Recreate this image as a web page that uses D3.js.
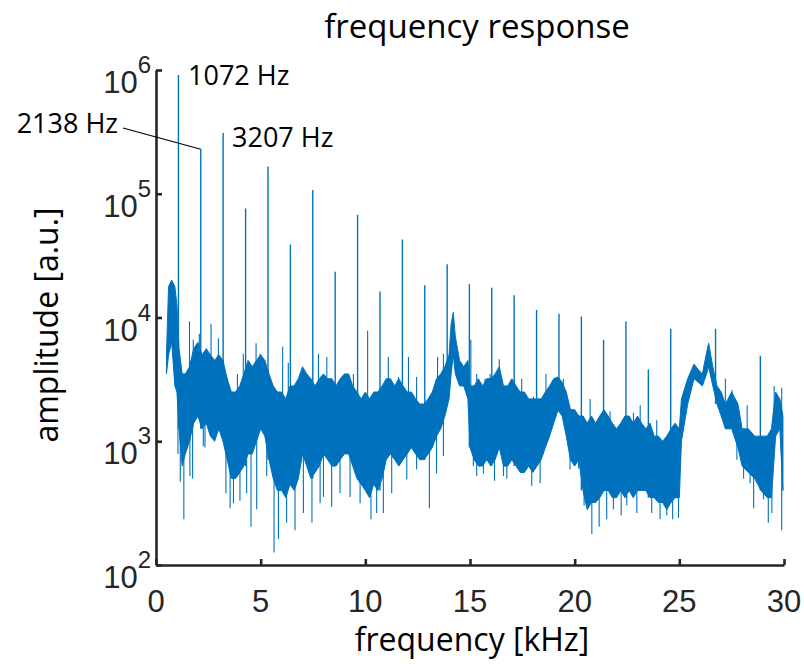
<!DOCTYPE html>
<html>
<head>
<meta charset="utf-8">
<script src="https://cdn.jsdelivr.net/npm/d3@7"></script>
<style>
  body { margin: 0; background: #fff; }
  svg { display: block; }
  .tick line, .domain { stroke: #262626; }
</style>
</head>
<body>
<svg id="chart" width="804" height="664"></svg>
<script>
const bandFreq = [0.5, 0.6, 0.75, 0.9, 1.0, 1.1, 1.25, 1.4, 1.6, 1.8, 2.0, 2.2, 2.4, 2.6, 2.8, 3.0, 3.2, 3.4, 3.6, 3.8,
  4.0, 4.2, 4.4, 4.6, 4.8, 5.0, 5.2, 5.4, 5.6, 5.8, 6.0, 6.2, 6.4, 6.6, 6.8, 7.0, 7.2, 7.4, 7.6, 7.8,
  8.0, 8.2, 8.4, 8.6, 8.8, 9.0, 9.2, 9.4, 9.6, 9.8, 10.0, 10.2, 10.4, 10.6, 10.8, 11.0, 11.2, 11.4, 11.6, 11.8,
  12.0, 12.2, 12.4, 12.6, 12.8, 13.0, 13.2, 13.4, 13.6, 13.8, 14.0, 14.1, 14.2, 14.3, 14.5, 14.7, 14.9,
  15.0, 15.2, 15.4, 15.6, 15.8, 16.0, 16.2, 16.4, 16.6, 16.8, 17.0, 17.2, 17.4, 17.6, 17.8,
  18.0, 18.2, 18.4, 18.6, 18.8, 19.0, 19.2, 19.4, 19.6, 19.8, 20.0, 20.2, 20.4, 20.6, 20.8, 21.0, 21.2, 21.4, 21.6, 21.8,
  22.0, 22.2, 22.4, 22.6, 22.8, 23.0, 23.2, 23.4, 23.6, 23.8, 24.0, 24.2, 24.4, 24.6, 24.8, 25.0,
  25.1, 25.4, 25.7, 25.9, 26.1, 26.3, 26.4, 26.6, 26.8, 27.0, 27.2, 27.5, 27.8, 28.0, 28.3, 28.6, 28.9, 29.2, 29.4, 29.6, 29.8, 29.95];
const bandHigh = [5000, 17800, 20000, 17800, 12600, 5600, 3500, 3500, 4000, 5600, 6300, 5000, 5600, 5000, 4500, 5000, 4500, 3200, 2500, 2500,
  2800, 3500, 4500, 4000, 4500, 5000, 4500, 3500, 2800, 2500, 2500, 2200, 2800, 2800, 3200, 4000, 3500, 3200, 2800, 3200,
  3500, 3200, 3200, 2800, 3200, 3500, 3500, 2800, 2500, 2200, 2500, 2200, 2500, 2500, 2800, 3200, 3200, 2800, 3200, 2800,
  2500, 2500, 2200, 2000, 2000, 2200, 2500, 3200, 3500, 4000, 5000, 8900, 11000, 7000, 4500, 4000, 4500,
  2800, 2800, 3200, 2800, 3200, 3200, 3500, 4000, 2800, 2800, 3200, 2800, 2500, 2500, 2200,
  2200, 2200, 2200, 2500, 2800, 3200, 3300, 3000, 2500, 1800, 1800, 1600, 1600, 1400, 1600, 1400, 1600, 1800, 1600, 1400,
  1260, 1400, 1600, 1600, 1400, 1600, 1400, 1260, 1400, 1100, 1100, 1000, 1100, 1260, 1400, 1260,
  2200, 3200, 4200, 3800, 3500, 5200, 6200, 4000, 2800, 2500, 2000, 2500, 2000, 1260, 1260, 1100, 1100, 1100, 1260, 2500, 2200, 1600];
const bandLow = [3500, 5000, 6300, 2800, 2500, 1260, 630, 790, 1000, 1400, 1600, 1260, 1400, 1100, 1000, 1260, 1000, 710, 500, 500,
  560, 630, 790, 790, 1000, 1260, 1100, 710, 500, 400, 400, 350, 450, 400, 500, 790, 630, 500, 560, 630,
  790, 710, 630, 630, 710, 790, 790, 630, 500, 450, 400, 350, 450, 400, 500, 710, 790, 710, 630, 710,
  790, 890, 790, 710, 710, 790, 890, 1100, 1260, 1600, 2200, 3500, 5000, 3500, 2800, 2800, 2200,
  890, 710, 630, 630, 710, 630, 710, 890, 630, 630, 710, 630, 560, 560, 630,
  560, 630, 710, 890, 1100, 1400, 1780, 1600, 1100, 710, 630, 710, 400, 280, 320, 320, 350, 400, 400, 350,
  350, 400, 350, 400, 350, 400, 400, 400, 350, 350, 320, 320, 280, 320, 350, 350,
  1000, 2000, 3200, 3000, 2800, 3500, 4000, 2800, 2000, 1600, 1260, 1260, 890, 630, 560, 500, 400, 350, 350, 1100, 1260, 400];

// harmonic lines of the 1.07 kHz fundamental
const peakFreq = [1.072, 2.138, 3.207, 4.28, 5.35, 6.42, 7.49, 8.56, 9.63, 10.70, 11.77, 12.84, 13.91,
  14.97, 16.04, 17.11, 18.18, 19.25, 20.32, 21.38, 22.45, 23.52, 24.59, 26.73, 28.87];
const peakAmp = [912000, 229000, 309000, 75900, 166000, 38900, 107000, 23400, 67600, 16200, 42700, 18200, 26900,
  18600, 17400, 15100, 11500, 10700, 10200, 6600, 9300, 3800, 8100, 8100, 4900];

// single noise samples that stick out of the band (downwards, then upwards)
const dipFreq = [1.05, 1.16, 1.33, 1.62, 1.75, 2.26, 2.34, 3.34, 3.54, 3.70, 4.01, 4.33, 4.54, 4.81, 5.29, 5.64, 5.85,
  6.24, 6.64, 7.04, 7.45, 7.84, 8.0, 8.39, 8.79, 9.27, 9.75, 10.27, 10.54, 10.86, 11.26, 11.98, 12.45, 13.06, 13.4, 13.73,
  15.16, 15.32, 15.64, 16.17, 16.6, 16.76, 17.39, 17.95, 18.35, 19.78, 20.18, 20.45, 20.82, 21.17, 21.53, 21.85,
  22.22, 22.49, 22.97, 23.68, 24.08, 24.4, 24.68, 24.96, 27.75, 28.07, 28.38, 28.55, 29.02, 29.25, 29.42, 29.89];
const dipAmp = [790, 470, 234, 525, 500, 910, 890, 380, 288, 316, 331, 380, 204, 282, 525, 126, 162,
  219, 191, 263, 219, 316, 355, 295, 380, 355, 316, 234, 263, 263, 380, 490, 590, 288, 550, 760,
  631, 525, 550, 479, 525, 501, 575, 437, 457, 590, 603, 302, 178, 204, 234, 282,
  251, 302, 263, 263, 234, 251, 234, 240, 708, 501, 457, 288, 339, 219, 263, 191];
const spikeFreq = [1.6, 1.78, 2.07, 2.63, 2.98, 3.38, 3.89, 4.17, 4.78, 4.97, 6.05, 6.32, 7.04, 7.76, 8.16, 8.87, 9.43,
  10.11, 11.1, 11.58, 12.06, 12.45, 13.45, 13.73, 15.04, 15.32, 15.72, 15.96, 16.4, 16.92, 17.47, 18.03, 18.63,
  19.46, 20.02, 20.74, 21.69, 22.81, 23.13, 23.92, 25.04, 27.2, 27.52, 28.24, 29.04, 29.53, 29.89];
const spikeAmp = [9300, 6600, 7400, 8900, 6800, 3300, 3500, 5100, 6200, 5100, 5800, 4300, 3800, 5100, 4800, 3200, 3500,
  7800, 4800, 3300, 4800, 3300, 4800, 5100, 6600, 3500, 3200, 3500, 4600, 3000, 3200, 2300, 3500,
  3200, 1700, 2200, 1740, 1700, 1950, 1480, 1350, 3200, 2600, 1950, 1020, 2800, 2700];

const xTicks = [0, 5, 10, 15, 20, 25, 30];
const yTicks = [1e2, 1e3, 1e4, 1e5, 1e6];
const labels = [
  { text: "1072 Hz", x: 188, y: 85 },
  { text: "3207 Hz", x: 232, y: 147 },
  { text: "2138 Hz", x: 118, y: 133, anchor: "end" }
];

const BLUE = "#0072BD";
const svg = d3.select("#chart");

let x = d3.scaleLinear().domain([0, 30]).range([156, 784]);
let y = d3.scaleLog().domain([1e2, 1e6]).range([565, 70]);

let band = bandFreq.map((f, i) => ({ f: f, hi: bandHigh[i], lo: bandLow[i] }));
let bisect = d3.bisector((d) => d.f).center;
let floorAt = (f) => band[bisect(band, f)];

// noise band
svg.append("path")
  .datum(band)
  .attr("fill", BLUE)
  .attr("stroke", BLUE)
  .attr("stroke-width", 1)
  .attr("stroke-linejoin", "round")
  .attr("d", d3.area().x((d) => x(d.f)).y0((d) => y(d.lo)).y1((d) => y(d.hi)));

function spikes(freqs, amps, base, width) {
  svg.append("g").selectAll("line")
    .data(freqs.map((f, i) => ({ f: f, a: amps[i] })))
    .join("line")
    .attr("x1", (d) => x(d.f)).attr("x2", (d) => x(d.f))
    .attr("y1", (d) => y(base(d.f))).attr("y2", (d) => y(d.a))
    .attr("stroke", BLUE)
    .attr("stroke-width", width);
}
let mid = (f) => Math.sqrt(floorAt(f).hi * floorAt(f).lo);
spikes(dipFreq, dipAmp, mid, 1.1);
spikes(spikeFreq, spikeAmp, mid, 1.1);
spikes(peakFreq, peakAmp, (f) => floorAt(f).lo, 1.4);

// axes, ticks pointing inward
let xAxis = svg.append("g")
  .attr("transform", `translate(0,${y.range()[0]})`)
  .call(d3.axisBottom(x).tickValues(xTicks).tickSize(-6).tickSizeOuter(0).tickFormat(""));
let yAxis = svg.append("g")
  .attr("transform", `translate(${x.range()[0]},0)`)
  .call(d3.axisLeft(y).tickValues(yTicks).tickSize(-6).tickSizeOuter(0).tickFormat(""));
[xAxis, yAxis].forEach((g) => {
  g.select(".domain").attr("stroke-width", 2.6);
  g.selectAll(".tick line").attr("stroke-width", 2.6);
});

svg.append("g").selectAll("text")
  .data(xTicks)
  .join("text")
  .attr("x", (d) => x(d)).attr("y", 612)
  .attr("text-anchor", "middle")
  .attr("font-family", "Liberation Sans, Arial, sans-serif")
  .attr("font-size", 31)
  .attr("fill", "#262626")
  .text((d) => d);

let yLabels = svg.append("g").selectAll("text")
  .data(yTicks)
  .join("text")
  .attr("x", 151).attr("y", (d) => y(d) + 23)
  .attr("text-anchor", "end")
  .attr("font-family", "Liberation Sans, Arial, sans-serif")
  .attr("font-size", 31)
  .attr("fill", "#262626");
yLabels.append("tspan").text("10");
yLabels.append("tspan")
  .attr("font-size", 24)
  .attr("dy", -20)
  .text((d) => Math.round(Math.log10(d)));

// titles
let font = "'Open Sans', 'Noto Sans', sans-serif";
svg.append("text")
  .attr("x", 477).attr("y", 38)
  .attr("text-anchor", "middle")
  .attr("font-family", font).attr("font-size", 33)
  .text("frequency response");
svg.append("text")
  .attr("x", 472).attr("y", 651)
  .attr("text-anchor", "middle")
  .attr("font-family", font).attr("font-size", 32)
  .text("frequency [kHz]");
svg.append("text")
  .attr("transform", "translate(58,325) rotate(-90)")
  .attr("text-anchor", "middle")
  .attr("font-family", font).attr("font-size", 32)
  .text("amplitude [a.u.]");

// peak annotations
svg.append("line")
  .attr("x1", 123).attr("y1", 128)
  .attr("x2", x(peakFreq[1])).attr("y2", y(peakAmp[1]))
  .attr("stroke", "#000").attr("stroke-width", 1.2);
svg.append("g").selectAll("text")
  .data(labels)
  .join("text")
  .attr("x", (d) => d.x).attr("y", (d) => d.y)
  .attr("text-anchor", (d) => d.anchor || "start")
  .attr("font-family", font).attr("font-size", 27)
  .text((d) => d.text);
</script>
</body>
</html>
